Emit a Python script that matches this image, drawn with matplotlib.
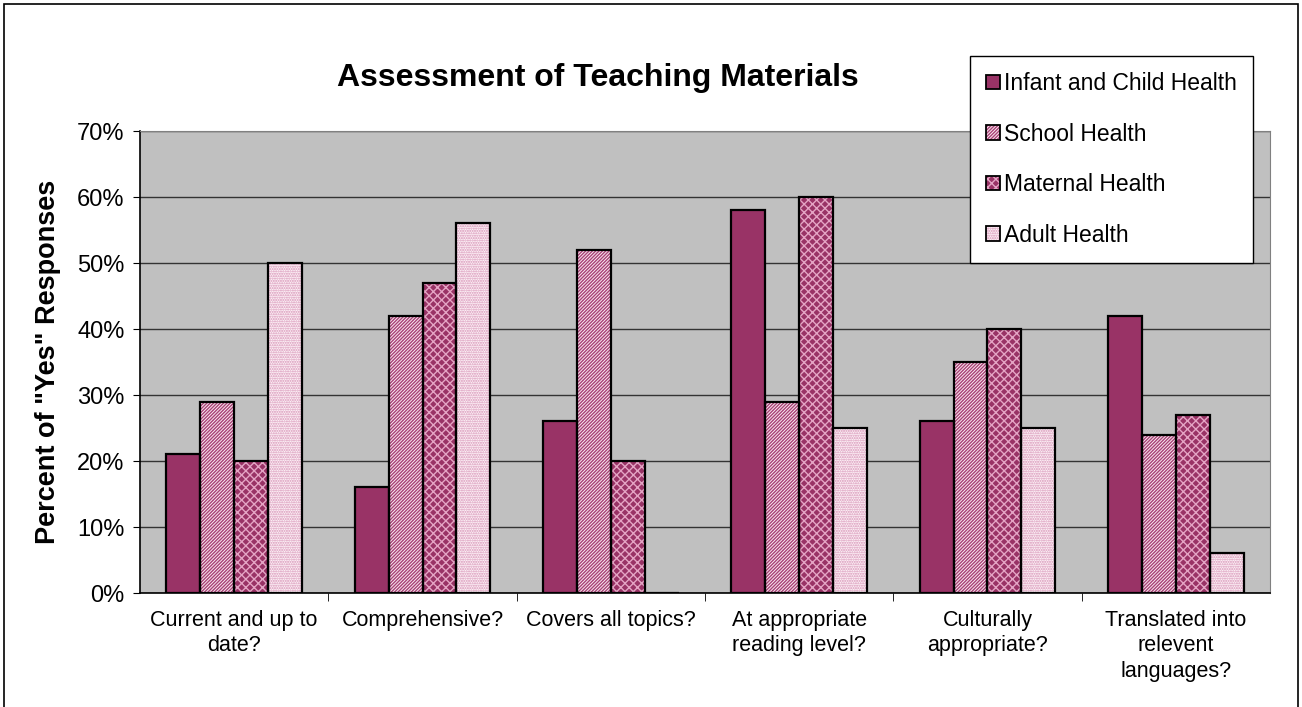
import numpy as np
import matplotlib.pyplot as plt
from matplotlib.patches import Rectangle

categories = ["Current and up to\ndate?", "Comprehensive?", "Covers all topics?",
              "At appropriate\nreading level?", "Culturally\nappropriate?",
              "Translated into\nrelevent\nlanguages?"]
series_names = ["Infant and Child Health", "School Health", "Maternal Health", "Adult Health"]
infant = [21, 16, 26, 58, 26, 42]
school = [29, 42, 52, 29, 35, 24]
maternal = [20, 47, 20, 60, 40, 27]
adult = [50, 56, 0, 25, 25, 6]
yticks = [0, 10, 20, 30, 40, 50, 60, 70]

plt.rcParams['font.family'] = ['Liberation Sans', 'DejaVu Sans']
plt.rcParams['hatch.linewidth'] = 1.0

fig = plt.figure(figsize=(13.02, 7.07), dpi=100)
ax = fig.add_axes([140 / 1302, 1 - 593 / 707, 1130 / 1302, 462 / 707])
ax.set_facecolor('#c0c0c0')

# face colour, hatch colour, hatch pattern
styles = [('#993366', '#993366', None),
          ('#fbeaf2', '#a84276', '//////////'),
          ('#993366', '#e4a4c4', 'xxxx'),
          ('#fdf2f7', '#d690b4', '.......')]

x = np.arange(len(categories))
w = 0.18
handles = []
for i, vals in enumerate([infant, school, maternal, adult]):
    fc, hc, hatch = styles[i]
    pos = x + (i - 1.5) * w
    ax.bar(pos, vals, w, color=fc, edgecolor=hc, hatch=hatch, linewidth=0, zorder=2)
    ax.bar(pos, vals, w, fill=False, edgecolor='black', linewidth=1.6, zorder=3)
    handles.append((Rectangle((0, 0), 1, 1, facecolor=fc, edgecolor=hc, hatch=hatch, linewidth=0),
                    Rectangle((0, 0), 1, 1, fill=False, edgecolor='black', linewidth=1.3)))

ax.set_xlim(-0.5, len(categories) - 0.5)
ax.set_ylim(0, 70)
ax.set_yticks(yticks)
ax.set_yticklabels([f"{t}%" for t in yticks], fontsize=17)
ax.yaxis.grid(True, color='#333333', linewidth=1, zorder=1)
ax.set_axisbelow(True)
ax.set_xticks(x)
ax.set_xticklabels(categories, fontsize=15.5, linespacing=1.3, va='top')
ax.tick_params(axis='x', length=0, pad=12)
ax.set_xticks(np.arange(0.5, len(categories) - 0.5, 1), minor=True)
ax.tick_params(axis='x', which='minor', length=6, color='black')
ax.tick_params(axis='y', length=5, direction='out', pad=6)
for s in ['top', 'right']:
    ax.spines[s].set_color('#808080')
for s in ['left', 'bottom']:
    ax.spines[s].set_linewidth(1.2)

ax.set_ylabel('Percent of "Yes" Responses', fontsize=19.5, fontweight='bold', labelpad=12)
fig.text(598 / 1302, 1 - 78 / 707, "Assessment of Teaching Materials", fontsize=23,
         fontweight='bold', ha='center', va='center')

leg = fig.legend(handles, series_names, loc='upper left',
                 bbox_to_anchor=(970 / 1302, 1 - 56 / 707), fontsize=16.5,
                 frameon=True, fancybox=False, edgecolor='black', framealpha=1,
                 handlelength=0.6, handleheight=0.6, handletextpad=0.2,
                 labelspacing=1.2, borderpad=0.7, borderaxespad=0)
leg.get_frame().set_linewidth(1.0)

fig.patches.append(Rectangle((4 / 1302, -0.05), 1294 / 1302, 1.05 - 4 / 707,
                             transform=fig.transFigure, fill=False,
                             edgecolor='black', linewidth=1.2))

fig.savefig('out.png', dpi=100)
